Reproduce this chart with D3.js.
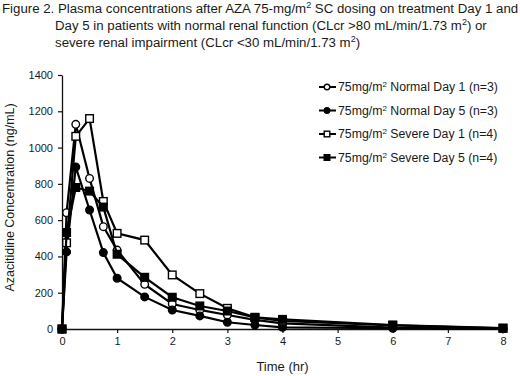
<!DOCTYPE html>
<html>
<head>
<meta charset="utf-8">
<script src="https://cdn.jsdelivr.net/npm/d3@7"></script>
<style>
  body { margin: 0; background: #fff; }
  text { font-family: "Liberation Sans", Arial, sans-serif; fill: #1a1a1a; }
</style>
</head>
<body>
<div id="chart"></div>
<script>
let width = 520,
    height = 376,
    margin = ({ top: 75, right: 17, bottom: 47, left: 62 });

// time points (hr)
const times = [0, 0.083, 0.25, 0.5, 0.75, 1, 1.5, 2, 2.5, 3, 3.5, 4, 6, 8];

// mean concentrations (ng/mL)
const normalDay1 = [0, 641, 1128, 830, 564, 435, 246, 138, 105, 77, 50, 31, 8, 2];
const normalDay5 = [0, 425, 893, 656, 421, 280, 177, 105, 72, 37, 22, 9, 4, 1];
const severeDay1 = [0, 475, 1062, 1160, 703, 527, 490, 298, 195, 114, 64, 44, 20, 4];
const severeDay5 = [0, 532, 780, 760, 672, 412, 285, 175, 127, 99, 64, 53, 22, 5];

const seriesNames = ["Normal Day 1 (n=3)", "Normal Day 5 (n=3)", "Severe Day 1 (n=4)", "Severe Day 5 (n=4)"];
const xTicks = [0, 1, 2, 3, 4, 5, 6, 7, 8];
const yTicks = [0, 200, 400, 600, 800, 1000, 1200, 1400];

const series = [
  { name: seriesNames[0], values: normalDay1, shape: "circle", filled: false },
  { name: seriesNames[1], values: normalDay5, shape: "circle", filled: true },
  { name: seriesNames[2], values: severeDay1, shape: "square", filled: false },
  { name: seriesNames[3], values: severeDay5, shape: "square", filled: true }
];

const svg = d3.select("#chart")
  .append("svg")
  .attr("width", width)
  .attr("height", height);

// title
const titleLines = [
  { x: 2, y: 13, parts: ["Figure 2. Plasma concentrations after AZA 75-mg/m", "2", " SC dosing on treatment Day 1 and"] },
  { x: 55, y: 30, parts: ["Day 5 in patients with normal renal function (CLcr >80 mL/min/1.73 m", "2", ") or"] },
  { x: 55, y: 47, parts: ["severe renal impairment (CLcr <30 mL/min/1.73 m", "2", ")"] }
];

for (let line of titleLines) {
  let t = svg.append("text")
    .attr("x", line.x)
    .attr("y", line.y)
    .style("font-size", "13.25px");
  line.parts.forEach((p, i) => {
    let sup = i % 2 === 1;
    t.append("tspan")
      .text(p)
      .style("font-size", sup ? "9px" : null)
      .attr("dy", sup ? -5 : (i > 0 ? 5 : 0));
  });
}

let x = d3.scaleLinear()
  .domain([0, 8])
  .range([margin.left, width - margin.right]);

let y = d3.scaleLinear()
  .domain([0, 1400])
  .range([height - margin.bottom, margin.top]);

let xAxis = svg.append("g")
  .attr("transform", `translate(0,${height - margin.bottom})`)
  .call(d3.axisBottom(x).tickValues(xTicks).tickSize(4).tickPadding(4).tickSizeOuter(0));

let yAxis = svg.append("g")
  .attr("transform", `translate(${margin.left},0)`)
  .call(d3.axisLeft(y).tickValues(yTicks).tickFormat(d3.format("d")).tickSize(4).tickPadding(5).tickSizeOuter(0));

for (let g of [xAxis, yAxis]) {
  g.select(".domain").attr("stroke", "#111").attr("stroke-width", 1.3);
  g.selectAll(".tick line").attr("stroke", "#111").attr("stroke-width", 1.2);
  g.selectAll("text")
    .style("font-family", "'Liberation Sans', Arial, sans-serif")
    .style("font-size", "11px")
    .attr("fill", "#1a1a1a");
}

svg.append("text")
  .text("Time (hr)")
  .attr("x", x(4))
  .attr("y", 371)
  .attr("text-anchor", "middle")
  .style("font-size", "13px");

svg.append("text")
  .text("Azacitidine Concentration (ng/mL)")
  .attr("transform", `translate(14,${y(725)}) rotate(-90)`)
  .attr("text-anchor", "middle")
  .style("font-size", "12.5px");

let line = d3.line()
  .x((d, i) => x(times[i]))
  .y(d => y(d));

function drawMarker(g, s, cx, cy, r) {
  if (s.shape === "circle") {
    g.append("circle")
      .attr("cx", cx).attr("cy", cy).attr("r", r)
      .attr("fill", s.filled ? "#000" : "#fff")
      .attr("stroke", "#000").attr("stroke-width", 1.4);
  } else {
    g.append("rect")
      .attr("x", cx - r).attr("y", cy - r)
      .attr("width", r * 2).attr("height", r * 2)
      .attr("fill", s.filled ? "#000" : "#fff")
      .attr("stroke", "#000").attr("stroke-width", 1.4);
  }
}

for (let s of series) {
  let g = svg.append("g");

  g.append("path")
    .datum(s.values)
    .attr("fill", "none")
    .attr("stroke", "#000")
    .attr("stroke-width", 2.2)
    .attr("d", line);

  s.values.forEach((v, i) => drawMarker(g, s, x(times[i]), y(v), 3.8));
}

// legend
let legend = svg.append("g");
series.forEach((s, i) => {
  let ly = 87 + i * 23.5;
  legend.append("line")
    .attr("x1", 319).attr("x2", 336)
    .attr("y1", ly).attr("y2", ly)
    .attr("stroke", "#000").attr("stroke-width", 2);
  drawMarker(legend, s, 327, ly, 2.8);

  let t = legend.append("text")
    .attr("x", 338)
    .attr("y", ly + 4)
    .style("font-size", "12.3px");
  t.append("tspan").text("75mg/m");
  t.append("tspan").text("2").style("font-size", "8px").attr("dy", -4);
  t.append("tspan").text(" " + s.name).attr("dy", 4);
});
</script>
</body>
</html>
